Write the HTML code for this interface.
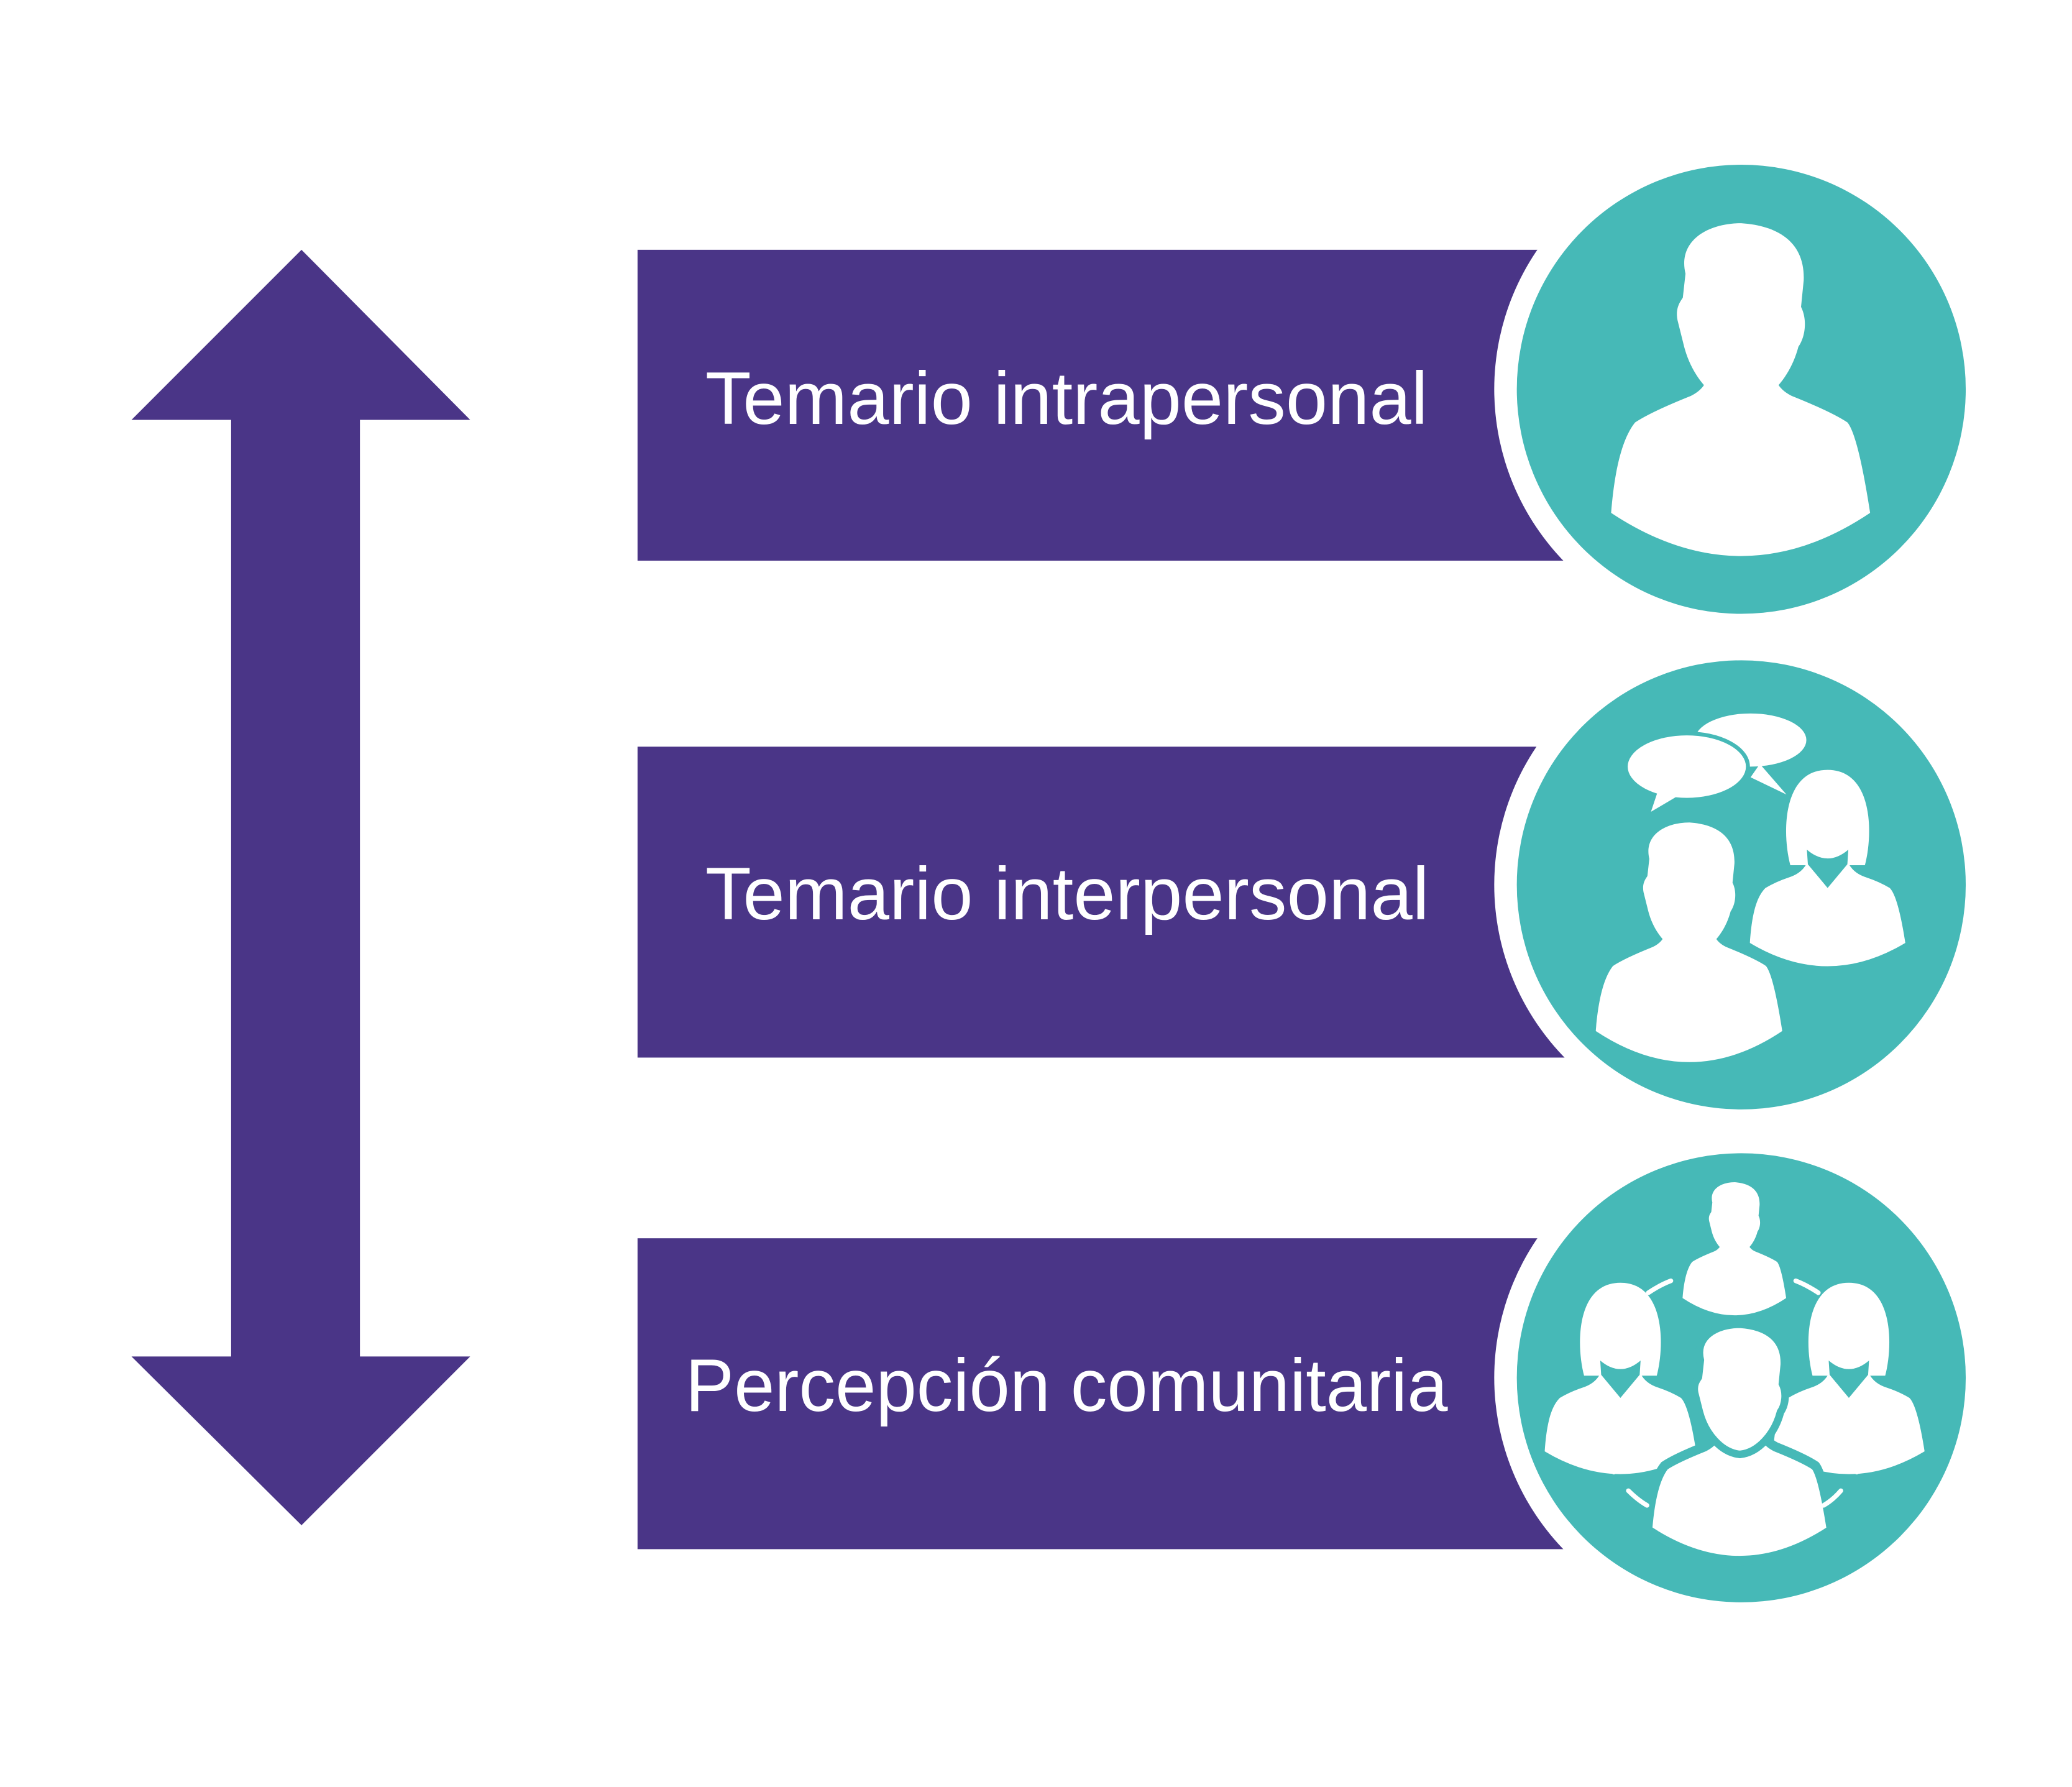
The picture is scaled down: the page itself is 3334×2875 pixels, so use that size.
<!DOCTYPE html>
<html><head><meta charset="utf-8"><style>
html,body{margin:0;padding:0;background:#fff;}
svg{display:block;}
</style></head><body>
<svg width="3334" height="2875" viewBox="0 0 1560 1345" preserveAspectRatio="none" xmlns="http://www.w3.org/2000/svg">
<defs>
<g id="man">
<path d="M-42,-30 C-48,-55 -25,-68 0,-68 C30,-66 48,-52 47,-25 L45,-5 C50,5 48,18 43,25 C37,48 20,68 0,70 C-20,68 -37,48 -43,25 L-48,5 C-50,-5 -45,-10 -44,-12 Z" fill="#fff"/>
<path d="M-98,150 C-95,112 -88,92 -80,82 Q-68,74 -38,62 Q-30,58 -27,52 Q0,78 27,52 Q30,58 38,62 Q68,74 80,82 Q88,92 97,150 Q0,215 -98,150Z" fill="#fff"/>
</g>
<g id="man2">
<path d="M-98,150 C-95,112 -88,92 -80,82 Q-68,74 -38,62 Q-30,58 -27,52 Q0,78 27,52 Q30,58 38,62 Q68,74 80,82 Q88,92 97,150 Q0,215 -98,150Z" fill="#fff" stroke="#46b9b7" stroke-width="10"/>
<path d="M-42,-30 C-48,-55 -25,-68 0,-68 C30,-66 48,-52 47,-25 L45,-5 C50,5 48,18 43,25 C37,48 20,68 0,70 C-20,68 -37,48 -43,25 L-48,5 C-50,-5 -45,-10 -44,-12 Z" fill="#fff" stroke="#46b9b7" stroke-width="8"/>
</g>
<g id="woman">
<path d="M-36,40 C-44,10 -44,-52 0,-52 C44,-52 44,10 36,40 Z" fill="#fff"/>
<path d="M-20,25 Q0,42 20,25 L19,40 L8,55 L-8,55 L-19,40Z" fill="#46b9b7"/>
<path d="M-75,115 C-73,85 -68,70 -60,62 Q-50,56 -38,52 Q-25,48 -20,38 L0,62 L20,38 Q25,48 38,52 Q50,56 60,62 Q68,70 75,115 Q0,160 -75,115Z" fill="#fff"/>
</g>
</defs>
<polygon points="227,188 354,316 271,316 271,1021 354,1021 227,1148 99,1021 174,1021 174,316 99,316" fill="#4a3587"/>
<rect x="480" y="188" width="720" height="234" fill="#4a3587"/>
<rect x="480" y="562" width="720" height="234" fill="#4a3587"/>
<rect x="480" y="932" width="720" height="234" fill="#4a3587"/>
<circle cx="1311" cy="293" r="186" fill="#fff"/>
<circle cx="1311" cy="666" r="186" fill="#fff"/>
<circle cx="1311" cy="1037" r="186" fill="#fff"/>
<rect x="1160" y="140" width="400" height="48" fill="#fff"/>
<rect x="1184" y="422" width="376" height="30" fill="#fff"/>
<rect x="1160" y="520" width="400" height="42" fill="#fff"/>
<rect x="1184" y="796" width="376" height="30" fill="#fff"/>
<rect x="1160" y="890" width="400" height="42" fill="#fff"/>
<rect x="1184" y="1166" width="376" height="60" fill="#fff"/>
<circle cx="1311" cy="293" r="169" fill="#46b9b7"/>
<circle cx="1311" cy="666" r="169" fill="#46b9b7"/>
<circle cx="1311" cy="1037" r="169" fill="#46b9b7"/>
<g font-family="Liberation Sans, sans-serif" font-size="56" fill="#fff">
<text x="531" y="319" textLength="544" lengthAdjust="spacingAndGlyphs">Temario intrapersonal</text>
<text x="531" y="692" textLength="545" lengthAdjust="spacingAndGlyphs">Temario interpersonal</text>
<text x="516" y="1062" textLength="574" lengthAdjust="spacingAndGlyphs">Percepción comunitaria</text>
</g>
<g transform="translate(1311,236)"><use href="#man"/></g>
<ellipse cx="1318" cy="557" rx="42" ry="20" fill="#fff"/>
<polygon points="1325,575 1345,598 1318,585" fill="#fff"/>
<ellipse cx="1270" cy="577" rx="46" ry="25" fill="#fff" stroke="#46b9b7" stroke-width="3"/>
<polygon points="1248,596 1243,611 1265,598" fill="#fff"/>
<g transform="translate(1272,668) scale(0.72)"><use href="#man"/></g>
<g transform="translate(1376,620) scale(0.78)"><use href="#woman"/></g>
<g transform="translate(1306,917) scale(0.4)"><use href="#man"/></g>
<g transform="translate(1220,1005) scale(0.76)"><use href="#woman"/></g>
<g transform="translate(1392,1005) scale(0.76)"><use href="#woman"/></g>
<g transform="translate(1310,1045) scale(0.71)"><use href="#man2"/></g>
<g stroke="#fff" stroke-width="3.5" stroke-linecap="round" fill="none">
<path d="M1241,973 Q1250,967 1258,964"/>
<path d="M1352,964 Q1360,967 1369,973"/>
<path d="M1205,1092 Q1208,1100 1215,1108"/>
<path d="M1408,1092 Q1405,1100 1398,1108"/>
<path d="M1226,1122 Q1233,1129 1240,1133"/>
<path d="M1386,1122 Q1380,1129 1373,1133"/>
</g>
</svg>
</body></html>
